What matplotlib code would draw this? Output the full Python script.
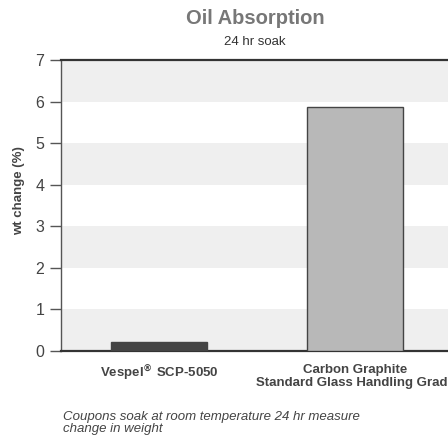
import matplotlib.pyplot as plt
from matplotlib import font_manager
import numpy as np

CATEGORIES = [r"Vespel$^{\mathbf{®}}$ SCP-5050",
              "Carbon Graphite\nStandard Glass Handling Grade"]
VALUES = [0.22, 5.88]
BAR_COLORS = ["#444444", "#b8b8b8"]
Y_TICKS = [0, 1, 2, 3, 4, 5, 6, 7]

TEXT = "#444444"

plt.rcParams["font.family"] = ["Liberation Sans", "DejaVu Sans"]

installed = {f.name for f in font_manager.fontManager.ttflist}
NARROW = "Liberation Sans Narrow" if "Liberation Sans Narrow" in installed else "Liberation Sans"

fig = plt.figure(figsize=(4.48, 4.36), dpi=100)
fig.patch.set_facecolor("white")
# axes runs past the right edge of the figure, like the reference crop
ax = fig.add_axes([61 / 448, 85 / 436, 392 / 448, 291 / 436])

x = np.arange(len(CATEGORIES))
ax.set_xlim(-0.5, 1.5)
ax.set_ylim(0, 7)

# alternating horizontal bands
for lo in range(0, 7):
    if lo % 2 == 0:
        ax.axhspan(lo, lo + 1, color="#efefef", lw=0, zorder=0)

ax.bar(x, VALUES, width=0.49, color=BAR_COLORS, edgecolor="#444444",
       linewidth=1.0, zorder=3)

ax.set_yticks(Y_TICKS)
ax.set_yticklabels([str(t) for t in Y_TICKS], fontsize=11.5, color=TEXT)
ax.tick_params(axis="y", direction="out", length=8, width=1, color="#555555", pad=4)
ax.set_xticks(x)
ax.set_xticklabels(CATEGORIES, fontsize=9.5, fontweight="bold", color=TEXT,
                   linespacing=1.15)
ax.tick_params(axis="x", length=0, pad=9)

for s in ["top", "bottom"]:
    ax.spines[s].set_color("#333333")
    ax.spines[s].set_linewidth(1.6)
ax.spines["left"].set_color("#555555")
ax.spines["left"].set_linewidth(1)
ax.spines["right"].set_visible(False)

ax.set_ylabel("wt change (%)", fontsize=9.5, fontweight="bold", color=TEXT)
ax.yaxis.set_label_coords(-36 / 392, 0.55)

fig.text(255 / 448, 1 - 18 / 436, "Oil Absorption", fontsize=14.5, fontweight="bold",
         color="#777777", ha="center", va="center")
fig.text(255 / 448, 1 - 42 / 436, "24 hr soak", fontsize=9.5, color="#333333",
         ha="center", va="center", family=[NARROW, "DejaVu Sans"])

fig.text(63 / 448, 1 - 423 / 436,
         "Coupons soak at room temperature 24 hr measure\nchange in weight",
         fontsize=9.5, style="italic", color=TEXT, ha="left", va="center",
         linespacing=1.0)

fig.savefig("out.png", dpi=100, facecolor="white")
